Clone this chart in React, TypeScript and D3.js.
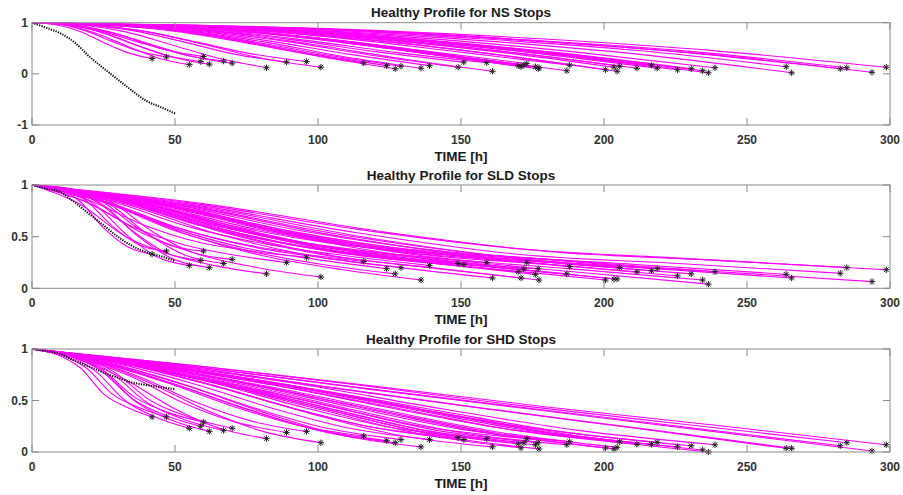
import React from 'react';
import * as d3 from 'd3';

// ---- data ----
const X_TICKS = [0, 50, 100, 150, 200, 250, 300];
const TITLES = ['Healthy Profile for NS Stops', 'Healthy Profile for SLD Stops', 'Healthy Profile for SHD Stops'];
const X_LABEL = 'TIME [h]';

// time of each stop (end of each profile, marked with *)
const STOP_TIMES = [42, 47, 55, 59, 60, 62, 67, 70, 82, 89, 96, 101, 116, 124, 127, 129, 136, 139, 149, 151, 159, 161,
  170, 171, 172, 173, 176, 177, 177.3, 187, 188, 200.5, 203.5, 204.6, 205.5, 211.5, 216.6, 218.6, 225.7, 230.5, 234.5,
  236.5, 238.8, 263.7, 265.6, 282.6, 284.9, 293.7, 298.7];

// health value at stop (marker) for each panel
const END_NS = [.30, .33, .18, .24, .34, .19, .25, .21, .12, .23, .24, .13, .21, .16, .10, .15, .11, .16, .13, .23, .22, .05,
  .16, .14, .17, .20, .14, .10, .12, .06, .17, .08, .13, .05, .15, .11, .17, .11, .08, .10, .06, .02, .12, .14, .02, .10, .12, .03, .13];
const END_SLD = [.33, .36, .22, .27, .36, .20, .24, .28, .14, .25, .30, .11, .26, .19, .14, .20, .08, .22, .24, .23, .25, .10,
  .16, .10, .19, .25, .135, .19, .08, .14, .21, .08, .09, .09, .20, .16, .17, .19, .12, .14, .08, .04, .16, .135, .10, .145, .20, .065, .18];
const END_SHD = [.34, .34, .23, .25, .29, .20, .21, .23, .13, .19, .20, .09, .155, .11, .09, .12, .05, .12, .14, .12, .13, .05,
  .08, .04, .09, .13, .07, .09, .03, .07, .10, .04, .03, .045, .10, .075, .075, .094, .05, .06, .02, .00, .07, .036, .036, .06, .09, .01, .07];

// intermediate values (hundredths) at 20%, 40%, 60%, 80% of each profile's duration
const MID_FRACTIONS = [0.2, 0.4, 0.6, 0.8];
const MID_NS = [
  [96, 83, 61, 41], [97, 84, 63, 44], [96, 80, 55, 31], [96, 82, 58, 36], [97, 84, 64, 45], [96, 81, 55, 32], [96, 82, 59, 37], [96, 81, 57, 34],
  [96, 82, 56, 30], [96, 84, 62, 38], [96, 84, 62, 39], [96, 82, 57, 30],
  [96, 86, 66, 42], [96, 85, 64, 38], [95, 84, 61, 33], [96, 85, 63, 37], [96, 84, 62, 34], [96, 85, 64, 38], [96, 84, 63, 36], [96, 86, 67, 43], [96, 86, 66, 42], [95, 83, 59, 30],
  [96, 86, 66, 41], [96, 85, 66, 40], [96, 86, 67, 42], [96, 86, 68, 44], [96, 85, 66, 40], [95, 85, 64, 37], [96, 85, 65, 38], [95, 84, 62, 34], [96, 86, 67, 42],
  [94, 84, 65, 39], [95, 85, 67, 43], [94, 84, 64, 37], [95, 86, 68, 44], [95, 85, 66, 41], [95, 86, 68, 45], [95, 85, 66, 41], [94, 84, 65, 39], [95, 85, 66, 41], [94, 84, 64, 38], [94, 83, 63, 35], [95, 85, 67, 42],
  [95, 85, 68, 46], [94, 83, 64, 38], [95, 85, 67, 43], [95, 85, 67, 45], [94, 84, 64, 39], [95, 85, 68, 45],
];
const MID_SLD = [
  [97, 84, 58, 40], [97, 85, 60, 42], [96, 81, 52, 30], [96, 82, 55, 34], [97, 85, 60, 42], [96, 81, 50, 28], [96, 82, 53, 32], [96, 83, 55, 35],
  [82, 50, 32, 21], [85, 59, 42, 32], [86, 62, 45, 36], [82, 51, 31, 19],
  [85, 62, 45, 34], [84, 58, 39, 28], [83, 55, 36, 23], [84, 58, 40, 29], [82, 52, 31, 18], [84, 59, 42, 31], [85, 60, 43, 32], [85, 60, 42, 31], [85, 61, 44, 33], [82, 53, 32, 20],
  [83, 56, 37, 26], [82, 53, 32, 21], [84, 58, 39, 29], [85, 61, 44, 34], [83, 55, 35, 24], [84, 58, 39, 29], [82, 52, 31, 19], [83, 55, 36, 24], [84, 59, 41, 31],
  [81, 51, 30, 19], [81, 52, 31, 20], [81, 52, 31, 20], [83, 58, 39, 30], [82, 55, 36, 26], [83, 56, 37, 27], [83, 57, 38, 29], [82, 53, 33, 23], [82, 54, 35, 24], [81, 51, 30, 19], [80, 49, 27, 16], [82, 55, 36, 26],
  [81, 53, 33, 23], [80, 51, 30, 20], [81, 54, 33, 24], [82, 57, 38, 29], [79, 49, 27, 17], [82, 56, 36, 27],
];
const MID_SHD = [
  [95, 82, 56, 43], [95, 82, 56, 43], [95, 79, 49, 33], [95, 80, 51, 35], [95, 81, 53, 38], [94, 78, 47, 30], [94, 79, 48, 31], [95, 79, 49, 33],
  [90, 70, 43, 23], [90, 72, 47, 29], [90, 72, 48, 30], [89, 68, 41, 20],
  [87, 68, 45, 26], [87, 66, 42, 22], [86, 65, 41, 20], [87, 67, 43, 23], [86, 64, 38, 16], [87, 67, 43, 23], [87, 67, 44, 24], [87, 67, 43, 23], [87, 67, 43, 23], [86, 64, 38, 16],
  [85, 65, 42, 20], [85, 64, 40, 17], [85, 65, 43, 21], [86, 67, 45, 24], [85, 65, 41, 19], [85, 65, 43, 21], [84, 63, 39, 16], [85, 65, 41, 19], [86, 66, 43, 22],
  [84, 64, 40, 18], [84, 63, 40, 18], [84, 64, 41, 19], [85, 66, 44, 23], [84, 65, 43, 21], [84, 65, 43, 21], [85, 66, 44, 23], [84, 64, 41, 19], [84, 64, 42, 20], [83, 63, 39, 17], [83, 62, 38, 15], [84, 65, 42, 21],
  [83, 62, 42, 23], [83, 62, 42, 23], [83, 63, 44, 25], [84, 65, 45, 27], [82, 61, 41, 21], [83, 64, 44, 26],
];

// reference (black dotted) profile
const REF_TIME = [0, 5, 10, 15, 20, 25, 30, 35, 40, 45, 50];
const REF_NS = [1, 0.90, 0.79, 0.61, 0.34, 0.11, -0.11, -0.33, -0.53, -0.65, -0.775];
const REF_SLD = [1, 0.965, 0.93, 0.83, 0.72, 0.61, 0.50, 0.41, 0.35, 0.31, 0.265];
const REF_SHD = [1, 0.98, 0.95, 0.885, 0.83, 0.77, 0.72, 0.675, 0.65, 0.63, 0.61];

const Y_TICKS_NS = [-1, 0, 1];
const Y_TICKS_01 = [0, 0.5, 1];

// ---- layout ----
const W = 903;
const H = 495;
const LEFT = 32;
const RIGHT = 890;
const PANELS = [
  { top: 22.7, bottom: 125, domain: [-1, 1], ticks: Y_TICKS_NS, ends: END_NS, mids: MID_NS, ref: REF_NS, title: TITLES[0] },
  { top: 185, bottom: 288.3, domain: [0, 1], ticks: Y_TICKS_01, ends: END_SLD, mids: MID_SLD, ref: REF_SLD, title: TITLES[1] },
  { top: 349, bottom: 452, domain: [0, 1], ticks: Y_TICKS_01, ends: END_SHD, mids: MID_SHD, ref: REF_SHD, title: TITLES[2] },
];

const FONT = '"Liberation Sans", Arial, Helvetica, sans-serif';
const AXIS_COLOR = '#8a8a8a';
const TEXT_COLOR = '#333333';
const MAGENTA = '#ff00ff';
const TICK_LEN = 7;
const STAR = 'M-3.2,0H3.2M0,-3.2V3.2M-2.3,-2.3L2.3,2.3M-2.3,2.3L2.3,-2.3';

function Panel({ p }: { p: typeof PANELS[number] }) {
  const x = d3.scaleLinear().domain([0, 300]).range([LEFT, RIGHT]);
  const y = d3.scaleLinear().domain(p.domain).range([p.bottom, p.top]);
  const line = d3
    .line<[number, number]>()
    .x((d) => x(d[0]))
    .y((d) => y(d[1]))
    .curve(d3.curveMonotoneX);

  const profiles = STOP_TIMES.map((T, i) => {
    const pts: [number, number][] = [[0, 1]];
    MID_FRACTIONS.forEach((f, k) => pts.push([T * f, p.mids[i][k] / 100]));
    pts.push([T, p.ends[i]]);
    return pts;
  });
  const refPts: [number, number][] = REF_TIME.map((t, i) => [t, p.ref[i]]);
  const cx = (LEFT + RIGHT) / 2;

  return (
    <g>
      <rect x={LEFT} y={p.top} width={RIGHT - LEFT} height={p.bottom - p.top} fill="#ffffff" />
      {profiles.map((pts, i) => (
        <path key={'l' + i} d={line(pts) || ''} fill="none" stroke={MAGENTA} strokeWidth={1.1} />
      ))}
      {STOP_TIMES.map((T, i) => (
        <path key={'m' + i} d={STAR} transform={`translate(${x(T)},${y(p.ends[i])})`} stroke="#222" strokeWidth={1} fill="none" />
      ))}
      <path d={line(refPts) || ''} fill="none" stroke="#111" strokeWidth={2} strokeDasharray="1.3 1.2" />
      {/* box */}
      <rect x={LEFT} y={p.top} width={RIGHT - LEFT} height={p.bottom - p.top} fill="none" stroke={AXIS_COLOR} strokeWidth={1} />
      {/* x ticks */}
      {X_TICKS.map((t) => (
        <g key={'xt' + t}>
          <line x1={x(t)} x2={x(t)} y1={p.bottom} y2={p.bottom - TICK_LEN} stroke={AXIS_COLOR} />
          <line x1={x(t)} x2={x(t)} y1={p.top} y2={p.top + TICK_LEN} stroke={AXIS_COLOR} />
          <text x={x(t)} y={p.bottom + 18.5} textAnchor="middle" fontSize={12} fontWeight="bold" fill={TEXT_COLOR} fontFamily={FONT}>
            {t}
          </text>
        </g>
      ))}
      {/* y ticks */}
      {p.ticks.map((t) => (
        <g key={'yt' + t}>
          <line x1={LEFT} x2={LEFT + TICK_LEN} y1={y(t)} y2={y(t)} stroke={AXIS_COLOR} />
          <line x1={RIGHT} x2={RIGHT - TICK_LEN} y1={y(t)} y2={y(t)} stroke={AXIS_COLOR} />
          <text x={28} y={y(t) + 4.3} textAnchor="end" fontSize={12} fontWeight="bold" fill={TEXT_COLOR} fontFamily={FONT}>
            {String(t)}
          </text>
        </g>
      ))}
      <text x={cx} y={p.top - 5.5} textAnchor="middle" fontSize={13.5} fontWeight="bold" fill="#1a1a1a" fontFamily={FONT}>
        {p.title}
      </text>
      <text x={cx} y={p.bottom + 36} textAnchor="middle" fontSize={13.5} fontWeight="bold" fill="#1a1a1a" fontFamily={FONT}>
        {X_LABEL}
      </text>
    </g>
  );
}

export default function App() {
  return (
    <div style={{ position: 'absolute', left: 0, top: 0, width: W, height: H, background: '#fff' }}>
      <svg width={W} height={H} viewBox={`0 0 ${W} ${H}`} style={{ display: 'block' }}>
        <rect width={W} height={H} fill="#ffffff" />
        {PANELS.map((p, i) => (
          <Panel key={i} p={p} />
        ))}
      </svg>
    </div>
  );
}
